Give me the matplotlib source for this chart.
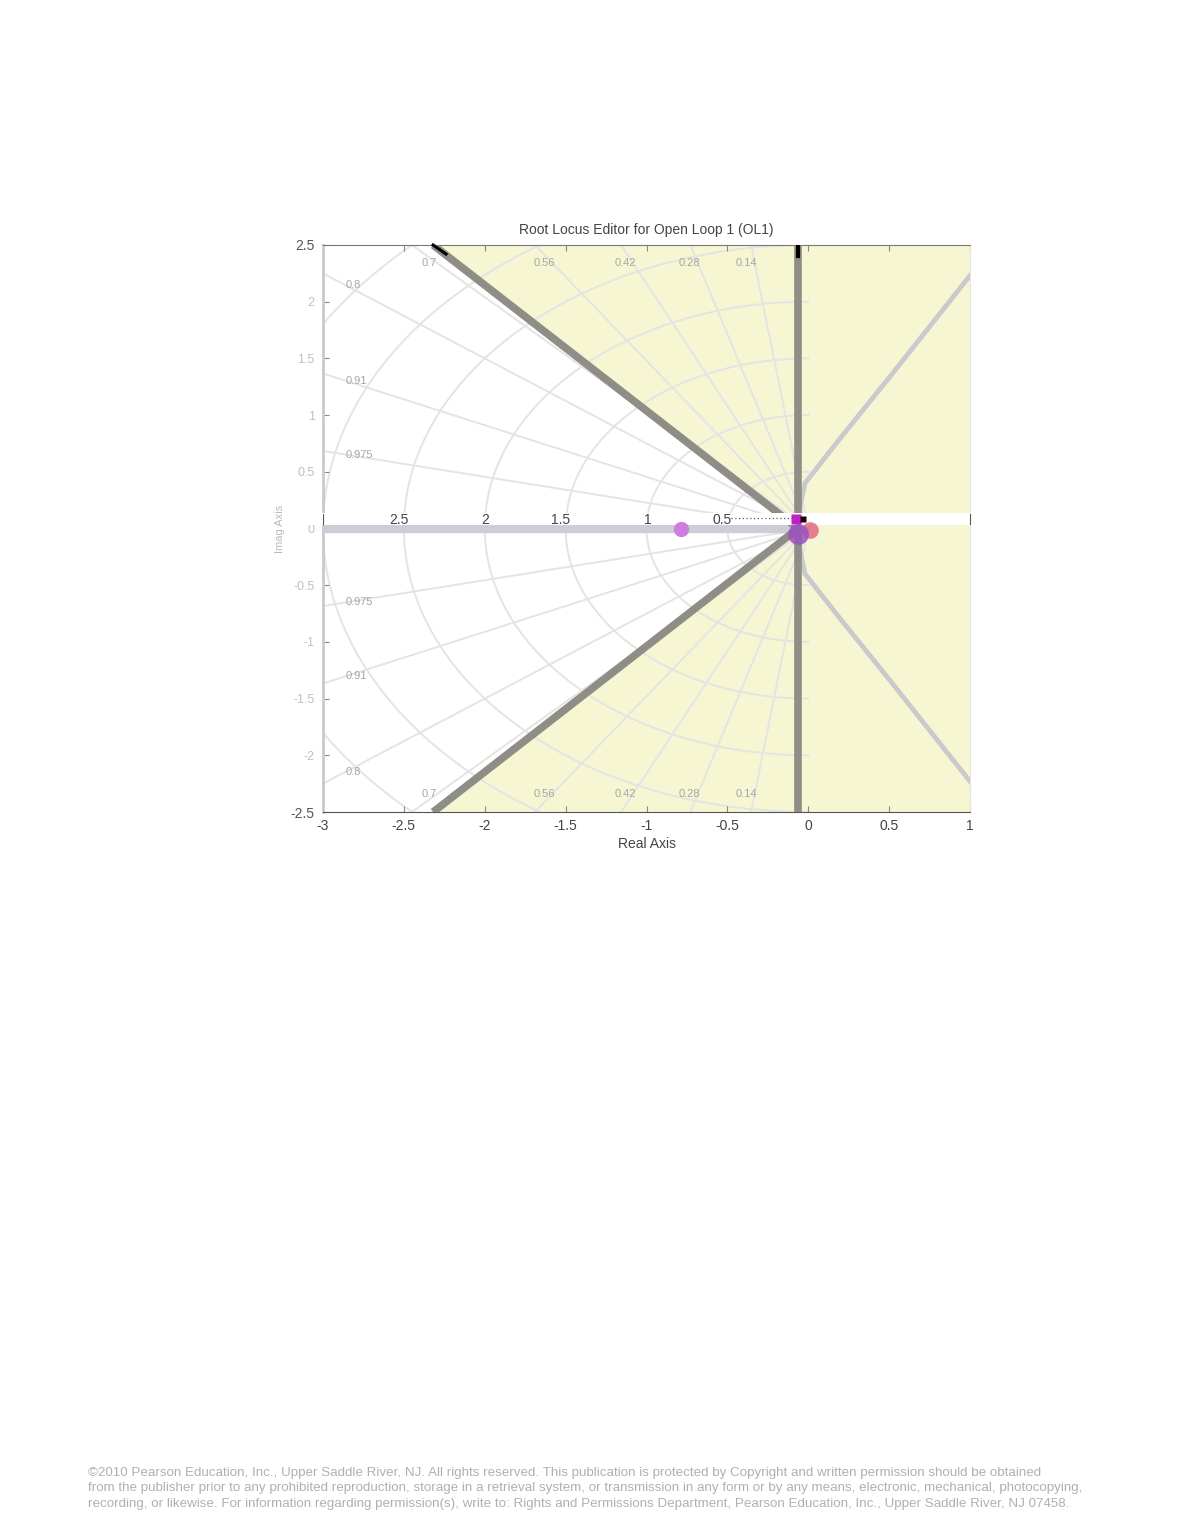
import numpy as np
import matplotlib
matplotlib.use('Agg')
import matplotlib.pyplot as plt
from matplotlib.patches import Polygon, Rectangle

plt.rcParams['font.family'] = ['Liberation Sans', 'DejaVu Sans']

# ---------------- data ----------------
title_text = "Root Locus Editor for Open Loop 1 (OL1)"
x_label = "Real Axis"
y_label = "Imag Axis"
x_limits = [-3, 1]
y_limits = [-2.5, 2.5]
x_ticks = [-3, -2.5, -2, -1.5, -1, -0.5, 0, 0.5, 1]
x_tick_labels = ["-3", "-2.5", "-2", "-1.5", "-1", "-0.5", "0", "0.5", "1"]
y_ticks = [-2.5, -2, -1.5, -1, -0.5, 0, 0.5, 1, 1.5, 2, 2.5]
y_tick_labels = ["-2.5", "-2", "-1.5", "-1", "-0.5", "0", "0.5", "1", "1.5", "2", "2.5"]

grid_damping = [0.14, 0.28, 0.42, 0.56, 0.7, 0.8, 0.91, 0.975]
grid_damping_labels = ["0.14", "0.28", "0.42", "0.56", "0.7", "0.8", "0.91", "0.975"]
grid_wn = [0.5, 1, 1.5, 2, 2.5, 3, 3.5, 4]
wn_labels = ["0.5", "1", "1.5", "2", "2.5"]
wn_label_values = [0.5, 1.0, 1.5, 2.0, 2.5]

constraint_zeta = 0.67
constraint_sigma = -0.063

real_locus_x = [-3.0, -0.063]
real_locus_y = [0.0, 0.0]
branch_x = [-0.063, -0.05, -0.02, 0.2, 0.5, 0.75, 1.0]
branch_y = [0.0, 0.2, 0.4, 0.8, 1.33, 1.78, 2.23]

pole_dot_x = [-0.787]
pole_dot_y = [0.0]
cl_blob_x = [-0.065]
cl_blob_y = [-0.05]
red_x = [0.01]
red_y = [-0.01]

footer_lines = [
    "\u00a92010 Pearson Education, Inc., Upper Saddle River, NJ. All rights reserved. This publication is protected by Copyright and written permission should be obtained",
    "from the publisher prior to any prohibited reproduction, storage in a retrieval system, or transmission in any form or by any means, electronic, mechanical, photocopying,",
    "recording, or likewise. For information regarding permission(s), write to: Rights and Permissions Department, Pearson Education, Inc., Upper Saddle River, NJ 07458.",
]

# ---------------- figure ----------------
fig = plt.figure(figsize=(11.8, 15.27), dpi=100)
fig.patch.set_facecolor('white')
ax = fig.add_axes([323/1180, 1-812/1527, (970-323)/1180, (812-245)/1527])
ax.set_xlim(x_limits)
ax.set_ylim(y_limits)

yellow = '#f6f6d3'
ax.set_facecolor(yellow)

# acceptable (white) region
theta_c = np.arccos(constraint_zeta)
xt = constraint_sigma - y_limits[1] / np.tan(theta_c)
white_poly = Polygon([(constraint_sigma, 0), (xt, y_limits[1]), (x_limits[0], y_limits[1]),
                      (x_limits[0], y_limits[0]), (xt, y_limits[0])],
                     closed=True, facecolor='white', edgecolor='none', zorder=0.5)
ax.add_patch(white_poly)

# s-plane grid: damping rays and natural frequency arcs
gcol = '#e4e4e4'
R = 6
for z in grid_damping:
    th = np.arccos(z)
    for s in (1, -1):
        ax.plot([0, -R*np.cos(th)], [0, s*R*np.sin(th)], color=gcol, lw=1.4, zorder=1)
for w in grid_wn:
    phi = np.linspace(np.pi/2, 3*np.pi/2, 300)
    ax.plot(w*np.cos(phi), w*np.sin(phi), color=gcol, lw=1.4, zorder=1)

# damping labels (top / bottom rows and left column)
for z, lab in zip(grid_damping, grid_damping_labels):
    th = np.arccos(z)
    t = np.tan(th)
    if 2.34 / t < 2.85:
        xs = -2.34 / t - 0.05
        for s in (1, -1):
            ax.text(xs, s*2.34, lab, fontsize=8, color='#a6a6a6', ha='center', va='center', zorder=2)
    else:
        ys = 2.86 * t
        for s in (1, -1):
            ax.text(-2.86, s*ys, lab, fontsize=8, color='#a6a6a6', ha='left', va='center', zorder=2)

# design constraint boundaries
cgray = '#8e8e86'
ax.plot([constraint_sigma, xt], [0, y_limits[1]], color=cgray, lw=5.5, zorder=3, solid_capstyle='butt')
ax.plot([constraint_sigma, xt], [0, y_limits[0]], color=cgray, lw=5.5, zorder=3, solid_capstyle='butt')
ax.plot([constraint_sigma, constraint_sigma], y_limits, color=cgray, lw=5.5, zorder=3, solid_capstyle='butt')
# handles at the edges
ax.plot([xt, xt + 0.08], [y_limits[1], y_limits[1] - 0.08], color='black', lw=2.2, zorder=6, clip_on=False)
ax.plot([constraint_sigma, constraint_sigma], [y_limits[1], y_limits[1] - 0.1], color='black', lw=3, zorder=6)

# root locus branches
lgray = '#cdcdd8'
ax.plot(real_locus_x, real_locus_y, color=lgray, lw=6, zorder=2.5, solid_capstyle='butt')
ax.plot(branch_x, branch_y, color='#cacace', lw=3.5, zorder=2.5)
ax.plot(branch_x, [-v for v in branch_y], color='#cacace', lw=3.5, zorder=2.5)

# white label strip on the real axis with natural frequency labels
ax.add_patch(Rectangle((x_limits[0] - 0.2, 0.031), 4.4, 0.106, facecolor='white', edgecolor='none',
                       zorder=4, clip_on=False))
for w, lab in zip(wn_label_values, wn_labels):
    ax.text(-w + 0.03, 0.078, lab, fontsize=10, color='#444444', ha='right', va='center', zorder=5)
ax.plot([-0.48, -0.1], [0.09, 0.09], color='#555555', lw=0.9, ls=(0, (1, 2)), zorder=5)
ax.plot([x_limits[0], x_limits[0]], [0.04, 0.13], color='#555555', lw=0.8, zorder=5)
ax.plot([x_limits[1], x_limits[1]], [0.04, 0.13], color='#555555', lw=0.8, zorder=5, clip_on=False)

# poles / markers
ax.plot(pole_dot_x, pole_dot_y, 'o', color='#cf7ee0', ms=11, mec='none', zorder=6)
ax.plot(cl_blob_x, cl_blob_y, 'o', color='#9a50c0', ms=15, mec='none', alpha=0.85, zorder=6)
ax.plot(red_x, red_y, 'o', color='#e06080', ms=12, mec='none', alpha=0.8, zorder=5.5)
ax.plot([-0.075], [0.085], 's', color='#c020c8', ms=7, mec='none', zorder=7)
ax.plot([-0.03], [0.085], 's', color='#200010', ms=5, mec='none', zorder=7)

# axes styling
ax.set_xticks(x_ticks)
ax.set_xticklabels(x_tick_labels, fontsize=10)
ax.set_yticks(y_ticks)
ax.set_yticklabels(y_tick_labels, fontsize=9)
ax.tick_params(direction='in', length=4, top=True, right=False, colors='#888888')
ax.tick_params(axis='x', labelcolor='#444444', labelsize=10, pad=5)
ax.tick_params(axis='y', labelcolor='#c0c0c0', labelsize=9, pad=6)
for lab in ax.get_yticklabels():
    if lab.get_text() in ("2.5", "-2.5"):
        lab.set_color('#555555')
        lab.set_fontsize(10)
ax.spines['top'].set_color('#777777')
ax.spines['bottom'].set_color('#555555')
ax.spines['left'].set_color('#cacaca')
ax.spines['left'].set_linewidth(2)
ax.spines['right'].set_color('#e6e6d6')

ax.set_title(title_text, fontsize=10, color='#444444', pad=8)
ax.set_xlabel(x_label, fontsize=10, color='#444444', labelpad=3)
ax.set_ylabel(y_label, fontsize=8, color='#bbbbbb', labelpad=4)

# footer
for i, line in enumerate(footer_lines):
    fig.text(88/1180, 1 - (1473 + i*15.5)/1527, line, fontsize=9.6, color='#b0b0b0',
             ha='left', va='center')

fig.savefig('out.png', dpi=100, facecolor='white')
